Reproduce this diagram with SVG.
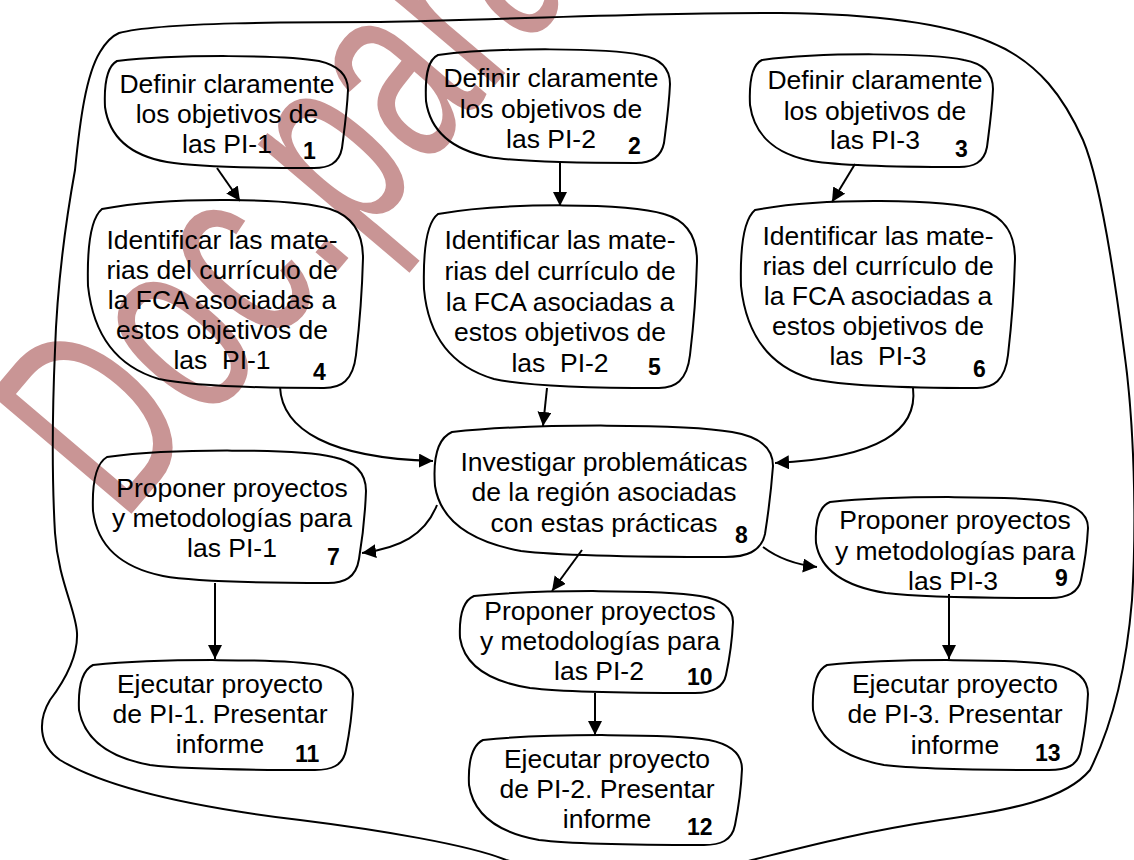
<svg xmlns="http://www.w3.org/2000/svg" width="1134" height="860" viewBox="0 0 1134 860">
<style>
.wm{font-family:"Liberation Sans",Arial,sans-serif;font-size:270px;fill:#c99595}
.outer{fill:none;stroke:#000;stroke-width:2}
.node path{fill:none;stroke:#000;stroke-width:2}
.node text{font-family:"Liberation Sans",Arial,sans-serif;fill:#000}
.t{font-size:26.5px;text-anchor:middle}
.n{font-size:23px;font-weight:bold}
.conn path{fill:none;stroke:#000;stroke-width:2;marker-end:url(#arr)}
</style>
<defs>
<marker id="arr" markerUnits="userSpaceOnUse" markerWidth="15" markerHeight="15" refX="14" refY="7" orient="auto">
<path d="M0,0 L14,7 L0,14 Z" fill="#000"/>
</marker>
</defs>
<rect width="1134" height="860" fill="#fff"/>
<text class="wm" transform="translate(122,525) rotate(-49.7) scale(0.66,1)">Doc.para</text>
<path class="outer" d="M119,33 C160,22 300,22 380,22 C500,20 650,12 780,13 C880,14 950,25 990,42 C1040,62 1065,100 1083,140 C1100,180 1115,280 1124,350 C1134,420 1137,520 1132,600 C1127,660 1115,720 1090,770 C1065,800 1010,810 940,820 C860,832 800,848 752,860 C700,875 560,875 506,860 C470,845 380,830 300,820 C200,808 110,790 60,760 C38,745 38,720 50,700 C65,680 78,655 77,633 C76,610 58,580 55,533 C52,480 52,420 55,350 C57,290 66,220 75,170 C80,120 86,75 100,52 C106,42 112,36 119,33 Z"/>
<g id="n1" class="node">
<path d="M117,61 C177,54 287,55 319,61 C341,66 348,77 348,90 C347,112 344,132 342,148 C339,164 328,168 314,168 C250,168 197,167 167,162 C128,155 109,135 105,107 C104,85 106,67 117,61 Z"/>
<text class="t" x="227" y="93">Definir claramente</text>
<text class="t" x="227" y="123">los objetivos de</text>
<text class="t" x="227" y="153">las PI-1</text>
<text class="n" x="303" y="159">1</text>
</g>
<g id="n2" class="node">
<path d="M438,55 C498,47 609,48 641,55 C663,59 670,70 670,84 C669,107 666,127 664,143 C661,158 650,163 636,163 C572,163 518,162 489,157 C449,149 430,129 426,101 C425,78 427,60 438,55 Z"/>
<text class="t" x="551" y="87">Definir claramente</text>
<text class="t" x="551" y="118">los objetivos de</text>
<text class="t" x="551" y="148">las PI-2</text>
<text class="n" x="628" y="154">2</text>
</g>
<g id="n3" class="node">
<path d="M762,60 C822,52 932,53 964,60 C986,64 993,75 993,89 C992,111 989,131 987,147 C984,163 973,167 959,167 C895,167 842,166 812,161 C773,154 754,133 750,105 C749,83 751,65 762,60 Z"/>
<text class="t" x="875" y="89">Definir claramente</text>
<text class="t" x="875" y="120">los objetivos de</text>
<text class="t" x="875" y="149">las PI-3</text>
<text class="n" x="955" y="157">3</text>
</g>
<g id="n4" class="node">
<path d="M102,209 C170,196 294,198 330,209 C355,217 363,236 363,258 C362,295 359,329 356,355 C353,381 341,388 324,388 C253,388 192,386 159,379 C115,366 93,332 88,286 C87,249 90,219 102,209 Z"/>
<text class="t" x="222" y="249">Identificar las mate-</text>
<text class="t" x="222" y="279">rias del currículo de</text>
<text class="t" x="222" y="309">la FCA asociadas a</text>
<text class="t" x="222" y="339">estos objetivos de</text>
<text class="t" x="222" y="369" style="white-space:pre">las  PI-1</text>
<text class="n" x="313" y="380">4</text>
</g>
<g id="n5" class="node">
<path d="M438,214 C505,202 629,203 664,214 C689,221 697,240 697,261 C696,298 693,330 690,355 C687,381 675,388 659,388 C587,388 527,386 494,379 C450,366 428,334 424,289 C423,252 426,223 438,214 Z"/>
<text class="t" x="560" y="249">Identificar las mate-</text>
<text class="t" x="560" y="280">rias del currículo de</text>
<text class="t" x="560" y="311">la FCA asociadas a</text>
<text class="t" x="560" y="341">estos objetivos de</text>
<text class="t" x="560" y="372" style="white-space:pre">las  PI-2</text>
<text class="n" x="648" y="375">5</text>
</g>
<g id="n6" class="node">
<path d="M755,210 C823,197 946,199 982,210 C1007,218 1015,236 1015,259 C1014,296 1011,329 1008,355 C1005,381 993,388 977,388 C905,388 845,386 812,379 C768,366 746,333 741,286 C740,249 743,220 755,210 Z"/>
<text class="t" x="878" y="245">Identificar las mate-</text>
<text class="t" x="878" y="275">rias del currículo de</text>
<text class="t" x="878" y="305">la FCA asociadas a</text>
<text class="t" x="878" y="335">estos objetivos de</text>
<text class="t" x="878" y="365" style="white-space:pre">las  PI-3</text>
<text class="n" x="973" y="377">6</text>
</g>
<g id="n7" class="node">
<path d="M107,457 C174,448 298,449 333,457 C358,462 366,476 366,491 C365,518 362,541 359,559 C356,578 344,583 328,583 C256,583 196,582 163,576 C119,567 97,544 93,511 C92,485 95,464 107,457 Z"/>
<text class="t" x="232" y="497">Proponer proyectos</text>
<text class="t" x="232" y="527">y metodologías para</text>
<text class="t" x="232" y="557">las PI-1</text>
<text class="n" x="327" y="565">7</text>
</g>
<g id="n8" class="node">
<path d="M452,432 C535,423 688,424 732,432 C763,437 773,450 773,466 C771,492 768,515 765,534 C761,552 746,557 725,557 C637,557 562,556 521,551 C467,541 440,518 435,486 C433,460 436,439 452,432 Z"/>
<text class="t" x="604" y="471">Investigar problemáticas</text>
<text class="t" x="604" y="501">de la región asociadas</text>
<text class="t" x="604" y="532">con estas prácticas</text>
<text class="n" x="735" y="543">8</text>
</g>
<g id="n9" class="node">
<path d="M830,502 C897,495 1020,496 1055,502 C1080,506 1088,516 1088,528 C1087,548 1084,566 1081,580 C1078,594 1066,598 1050,598 C979,598 919,597 886,593 C842,586 820,568 816,543 C815,523 818,507 830,502 Z"/>
<text class="t" x="955" y="529">Proponer proyectos</text>
<text class="t" x="955" y="560">y metodologías para</text>
<text class="t" x="953" y="590">las PI-3</text>
<text class="n" x="1055" y="586">9</text>
</g>
<g id="n10" class="node">
<path d="M474,596 C541,589 665,590 700,596 C725,600 733,610 733,622 C732,643 729,661 726,675 C723,689 711,693 695,693 C623,693 563,692 530,688 C486,681 464,663 460,638 C459,617 462,601 474,596 Z"/>
<text class="t" x="600" y="620">Proponer proyectos</text>
<text class="t" x="600" y="650">y metodologías para</text>
<text class="t" x="599" y="680">las PI-2</text>
<text class="n" x="687" y="685">10</text>
</g>
<g id="n11" class="node">
<path d="M93,665 C161,658 284,659 320,665 C345,670 353,681 353,694 C352,716 349,735 346,750 C343,766 331,770 315,770 C243,770 183,769 150,765 C106,757 84,737 79,710 C78,688 81,671 93,665 Z"/>
<text class="t" x="220" y="693">Ejecutar proyecto</text>
<text class="t" x="220" y="723">de PI-1. Presentar</text>
<text class="t" x="220" y="753">informe</text>
<text class="n" x="295" y="762">11</text>
</g>
<g id="n12" class="node">
<path d="M483,740 C550,733 674,734 709,740 C734,745 742,756 742,769 C741,791 738,810 735,825 C732,841 720,845 704,845 C632,845 572,844 539,840 C495,832 473,812 469,785 C468,763 471,746 483,740 Z"/>
<text class="t" x="607" y="768">Ejecutar proyecto</text>
<text class="t" x="607" y="798">de PI-2. Presentar</text>
<text class="t" x="607" y="828">informe</text>
<text class="n" x="687" y="835">12</text>
</g>
<g id="n13" class="node">
<path d="M827,665 C895,658 1019,659 1055,665 C1080,670 1088,681 1088,694 C1087,716 1084,735 1081,750 C1078,766 1066,770 1049,770 C978,770 917,769 884,765 C840,757 818,737 813,710 C812,688 815,671 827,665 Z"/>
<text class="t" x="955" y="693">Ejecutar proyecto</text>
<text class="t" x="955" y="723">de PI-3. Presentar</text>
<text class="t" x="955" y="754">informe</text>
<text class="n" x="1035" y="761">13</text>
</g>
<g id="connectors" class="conn">
<path d="M217,168 L240,201"/>
<path d="M560,163 L560,206"/>
<path d="M855,164 L832,202"/>
<path d="M280,387 C282,430 330,458 433,461"/>
<path d="M547,388 L543,426"/>
<path d="M913,388 C918,430 880,458 775,463"/>
<path d="M437,505 C425,535 400,548 362,553"/>
<path d="M582,550 L552,591"/>
<path d="M763,547 C775,556 790,564 817,567"/>
<path d="M215,583 L215,659"/>
<path d="M595,693 L595,735"/>
<path d="M949,594 L949,659"/>
</g>
</svg>
